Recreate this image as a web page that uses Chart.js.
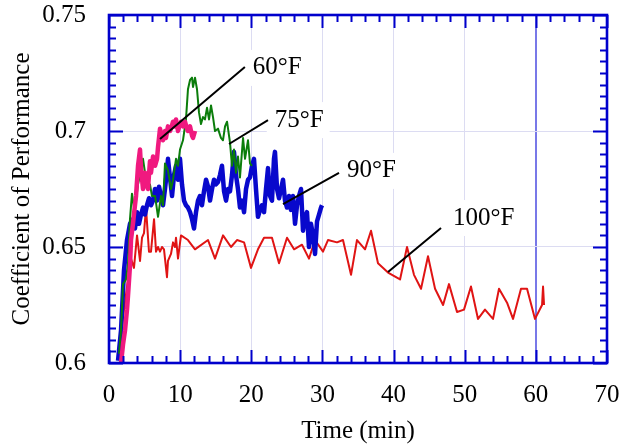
<!DOCTYPE html>
<html>
<head>
<meta charset="utf-8">
<script src="https://cdn.jsdelivr.net/npm/chart.js@4/dist/chart.umd.min.js"></script>
<style>
  html, body { margin: 0; padding: 0; background: #fff; }
  #cop { display: block; }
</style>
</head>
<body>
<canvas id="cop" width="621" height="448"></canvas>
<script>
// time (min) and coefficient of performance for each chamber temperature
const t60 = [1.69,1.97,2.25,2.53,2.67,2.95,3.09,3.37,3.65,3.80,4.08,4.36,4.50,4.78,5.06,5.20,5.48,5.76,5.90,6.19,6.47,6.75,6.89,7.17,7.31,7.59,7.87,8.01,8.29,8.57,8.72,9.00,9.28,9.42,9.70,9.98,10.12,10.40,10.68,10.96,11.10,11.39,11.67,11.81,12.09];
const cop60 = [0.600,0.608,0.614,0.623,0.629,0.642,0.653,0.660,0.668,0.672,0.685,0.692,0.684,0.675,0.682,0.678,0.675,0.687,0.682,0.689,0.685,0.688,0.693,0.701,0.699,0.696,0.700,0.697,0.702,0.700,0.701,0.704,0.702,0.705,0.700,0.703,0.704,0.702,0.704,0.701,0.700,0.702,0.698,0.697,0.700];

const t75 = [1.41,1.69,1.97,2.39,2.67,2.95,3.23,3.51,3.80,4.08,4.36,4.78,5.06,5.48,5.76,6.04,6.47,6.89,7.31,7.59,7.87,8.29,8.72,9.00,9.42,9.70,9.98,10.40,10.82,11.10,11.39,11.67,11.81,12.09,12.37,12.65,12.93,13.21,13.49,13.78,14.06,14.34,14.62,14.90,15.32,15.74,16.02,16.31,16.59,16.87,17.01,17.29,17.57,17.85,18.13,18.41,18.84,19.12,19.54,19.82,20.10];
const cop75 = [0.604,0.614,0.634,0.636,0.643,0.662,0.673,0.667,0.670,0.677,0.681,0.688,0.682,0.675,0.677,0.672,0.672,0.663,0.672,0.668,0.686,0.683,0.675,0.679,0.688,0.685,0.692,0.696,0.705,0.718,0.722,0.723,0.719,0.723,0.718,0.708,0.703,0.706,0.705,0.710,0.705,0.711,0.706,0.700,0.701,0.697,0.696,0.702,0.704,0.698,0.695,0.685,0.692,0.682,0.689,0.680,0.697,0.688,0.696,0.686,0.685];

const t90 = [1.27,1.69,2.11,2.53,2.95,3.37,3.65,3.94,4.22,4.50,4.78,5.06,5.34,5.62,5.90,6.19,6.47,6.75,7.03,7.31,7.59,7.87,8.15,8.29,8.57,8.86,9.14,9.42,9.70,9.98,10.26,10.54,10.82,11.10,11.39,11.67,11.95,12.23,12.51,12.79,13.07,13.35,13.64,13.92,14.20,14.48,14.76,15.04,15.32,15.60,15.88,16.17,16.45,16.73,17.01,17.29,17.57,17.85,18.13,18.41,18.70,18.98,19.26,19.54,19.82,20.10,20.38,20.66,20.94,21.23,21.51,21.79,22.07,22.35,22.63,22.91,23.19,23.33,23.62,23.90,24.18,24.46,24.74,25.02,25.30,25.58,25.86,26.15,26.43,26.71,26.99,27.27,27.55,27.83,28.11,28.39,28.68,28.96,29.24,29.52,29.80,29.94];
const cop90 = [0.601,0.614,0.640,0.653,0.660,0.662,0.658,0.665,0.660,0.664,0.667,0.664,0.668,0.671,0.668,0.670,0.675,0.670,0.676,0.672,0.668,0.675,0.683,0.688,0.680,0.672,0.681,0.685,0.679,0.688,0.677,0.670,0.668,0.667,0.665,0.662,0.658,0.665,0.670,0.672,0.668,0.674,0.679,0.676,0.670,0.675,0.679,0.677,0.678,0.681,0.685,0.674,0.670,0.675,0.674,0.681,0.691,0.681,0.675,0.667,0.670,0.665,0.675,0.679,0.680,0.685,0.688,0.675,0.663,0.666,0.668,0.665,0.675,0.684,0.672,0.670,0.688,0.691,0.675,0.671,0.675,0.679,0.670,0.667,0.672,0.666,0.672,0.660,0.668,0.672,0.675,0.657,0.663,0.665,0.650,0.660,0.655,0.647,0.661,0.664,0.667,0.668];

const t100 = [1.41,2.11,2.67,3.09,3.51,3.94,4.36,4.64,4.92,5.20,5.62,5.90,6.33,6.61,6.89,7.17,7.45,7.73,8.15,8.29,8.71,9.00,9.28,9.42,9.70,10.12,11.10,12.09,13.92,14.90,16.03,17.15,17.99,18.98,19.96,20.94,21.79,22.91,23.90,25.02,26.01,27.13,28.11,28.96,30.08,30.78,32.05,32.89,34.02,34.86,35.99,36.83,37.81,39.22,40.91,41.89,42.87,43.86,44.84,45.83,46.96,47.79,48.92,49.90,50.88,51.87,52.85,53.98,54.82,55.95,56.79,57.91,58.76,59.88,60.87,61.01,61.15];
const cop100 = [0.605,0.623,0.636,0.645,0.641,0.655,0.644,0.654,0.656,0.667,0.648,0.648,0.662,0.648,0.650,0.648,0.650,0.649,0.637,0.644,0.647,0.652,0.650,0.654,0.645,0.655,0.653,0.649,0.653,0.645,0.655,0.650,0.653,0.652,0.641,0.649,0.654,0.654,0.643,0.654,0.649,0.651,0.645,0.653,0.648,0.653,0.652,0.653,0.638,0.653,0.649,0.657,0.643,0.639,0.636,0.650,0.638,0.632,0.646,0.632,0.625,0.634,0.622,0.623,0.633,0.619,0.623,0.619,0.632,0.626,0.619,0.632,0.632,0.619,0.625,0.633,0.625];

// series labels with their leader lines: [from x, from y, to x, to y] and text anchor [x, y]
const seriesNames = ['60°F', '75°F', '90°F', '100°F'];
const leaderLines = [
  [7.17, 0.6966, 19.1, 0.7276],
  [16.87, 0.6944, 22.35, 0.7047],
  [24.46, 0.6685, 32.33, 0.6819],
  [39.22, 0.6392, 46.67, 0.6582]
];
const labelAnchors = [
  [20.2, 0.7272],
  [23.3, 0.7047],
  [33.45, 0.6828],
  [48.35, 0.6625]
];

const xMarker = 60;       // the vertical line at 60 min
const axisBlue = '#0000cc';
const gridColor = '#dcdcf2';
const clear = 'rgba(0,0,0,0)';
const serif = "'Liberation Serif', 'Times New Roman', serif";
const fontSize = 25;

function pts(t, v) {
  return t.map((x, i) => ({ x: x, y: v[i] }));
}

// frame and minor ticks on all four sides
const frameTicks = {
  id: 'frameTicks',
  afterDatasetsDraw(chart) {
    const { ctx, chartArea: a, scales: { x, y } } = chart;
    ctx.save();
    ctx.strokeStyle = axisBlue;
    ctx.lineWidth = 2;
    ctx.beginPath();
    for (let i = 0; i <= 35; i++) {
      const px = Math.round(x.getPixelForValue(i * 2)) + 0.5;
      const len = i % 5 === 0 ? 13 : 7;
      ctx.moveTo(px, a.bottom); ctx.lineTo(px, a.bottom - len);
      ctx.moveTo(px, a.top); ctx.lineTo(px, a.top + len);
    }
    for (let i = 0; i <= 30; i++) {
      const py = Math.round(y.getPixelForValue(0.6 + i * 0.005)) + 0.5;
      const len = i % 10 === 0 ? 14 : 7;
      ctx.moveTo(a.left, py); ctx.lineTo(a.left + len, py);
      ctx.moveTo(a.right, py); ctx.lineTo(a.right - len, py);
    }
    ctx.stroke();
    ctx.lineWidth = 2.6;
    ctx.strokeRect(a.left, a.top, a.right - a.left, a.bottom - a.top);
    ctx.restore();
  }
};

// white boxes behind the labels, leader lines and text on top
const seriesLabels = {
  id: 'seriesLabels',
  beforeDatasetsDraw(chart) {
    const { ctx, scales: { x, y } } = chart;
    ctx.save();
    ctx.font = fontSize + 'px ' + serif;
    ctx.fillStyle = '#fff';
    seriesNames.forEach((name, i) => {
      const px = x.getPixelForValue(labelAnchors[i][0]);
      const py = y.getPixelForValue(labelAnchors[i][1]);
      const w = ctx.measureText(name).width;
      ctx.fillRect(px - 8, py - 18, w + 14, 36);
    });
    ctx.restore();
  },
  afterDatasetsDraw(chart) {
    const { ctx, scales: { x, y } } = chart;
    ctx.save();
    ctx.strokeStyle = '#000';
    ctx.lineWidth = 2;
    ctx.beginPath();
    leaderLines.forEach(l => {
      ctx.moveTo(x.getPixelForValue(l[0]), y.getPixelForValue(l[1]));
      ctx.lineTo(x.getPixelForValue(l[2]), y.getPixelForValue(l[3]));
    });
    ctx.stroke();
    ctx.font = fontSize + 'px ' + serif;
    ctx.fillStyle = '#000';
    ctx.textBaseline = 'middle';
    seriesNames.forEach((name, i) => {
      ctx.fillText(name, x.getPixelForValue(labelAnchors[i][0]), y.getPixelForValue(labelAnchors[i][1]));
    });
    ctx.restore();
  }
};

Chart.defaults.font.family = serif;
Chart.defaults.color = '#000';

new Chart(document.getElementById('cop'), {
  type: 'line',
  data: {
    datasets: [
      { label: seriesNames[0], data: pts(t60, cop60), borderColor: '#f0197f', borderWidth: 4.5 },
      { label: seriesNames[1], data: pts(t75, cop75), borderColor: '#0b7d0b', borderWidth: 2 },
      { label: seriesNames[2], data: pts(t90, cop90), borderColor: '#0808cc', borderWidth: 4.5 },
      { label: seriesNames[3], data: pts(t100, cop100), borderColor: '#e01414', borderWidth: 2 }
    ]
  },
  options: {
    responsive: false,
    animation: false,
    parsing: false,
    elements: {
      point: { radius: 0 },
      line: { tension: 0, borderJoinStyle: 'round', fill: false }
    },
    layout: { padding: { top: 15, right: 14, left: 0, bottom: 0 } },
    plugins: { legend: { display: false }, tooltip: { enabled: false } },
    scales: {
      x: {
        type: 'linear', min: 0, max: 70,
        border: { display: false },
        grid: {
          tickLength: 18,
          tickColor: clear,
          color: c => c.tick.value === xMarker ? '#7878e8' : (c.tick.value === 0 || c.tick.value === 70 ? clear : gridColor),
          lineWidth: c => c.tick.value === xMarker ? 2 : 1
        },
        ticks: { stepSize: 10, padding: 1, font: { size: fontSize, lineHeight: 1.1 }, maxRotation: 0 },
        title: { display: true, text: 'Time (min)', font: { size: fontSize }, padding: { top: 0, bottom: 2 } },
        afterFit: s => { s.height = 85; }
      },
      y: {
        min: 0.6, max: 0.75,
        border: { display: false },
        grid: {
          tickLength: 22,
          tickColor: clear,
          color: c => (c.tick.value <= 0.6001 || c.tick.value >= 0.7499) ? clear : gridColor
        },
        ticks: { stepSize: 0.05, padding: 1, font: { size: fontSize, lineHeight: 1.1 }, callback: v => String(+v.toFixed(2)) },
        title: { display: true, text: 'Coefficient of Performance', font: { size: fontSize }, padding: { top: 7, bottom: 0 } },
        afterFit: s => { s.width = 109; }
      }
    }
  },
  plugins: [seriesLabels, frameTicks]
});
</script>
</body>
</html>
